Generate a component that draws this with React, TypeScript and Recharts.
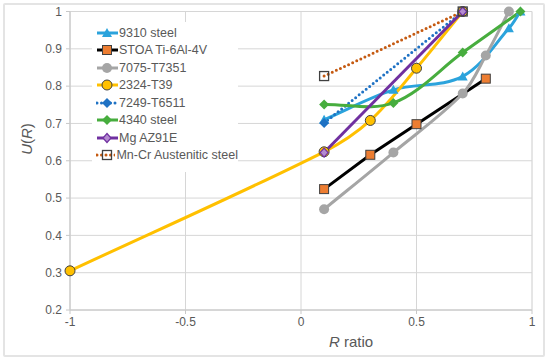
import React from "react"
import {
  LineChart, Line, XAxis, YAxis, CartesianGrid, Legend
} from "recharts"

// R ratio / U(R) pairs
const steel9310 = [
  { x: 0.1, y: 0.71 }, { x: 0.4, y: 0.79 }, { x: 0.7, y: 0.826 },
  { x: 0.9, y: 0.955 }, { x: 0.95, y: 1.0 },
]
const stoaTi = [
  { x: 0.1, y: 0.524 }, { x: 0.3, y: 0.616 }, { x: 0.5, y: 0.698 }, { x: 0.8, y: 0.82 },
]
const al7075 = [
  { x: 0.1, y: 0.47 }, { x: 0.4, y: 0.622 }, { x: 0.7, y: 0.78 },
  { x: 0.8, y: 0.882 }, { x: 0.9, y: 1.0 },
]
const al2324 = [
  { x: -1, y: 0.305 }, { x: 0.1, y: 0.624 }, { x: 0.3, y: 0.708 },
  { x: 0.5, y: 0.848 }, { x: 0.7, y: 1.0 },
]
const al7249 = [{ x: 0.1, y: 0.701 }, { x: 0.7, y: 1.0 }]
const steel4340 = [
  { x: 0.1, y: 0.751 }, { x: 0.4, y: 0.755 }, { x: 0.7, y: 0.89 }, { x: 0.95, y: 1.0 },
]
const mgAz91 = [{ x: 0.1, y: 0.622 }, { x: 0.7, y: 1.0 }]
const mnCr = [{ x: 0.1, y: 0.827 }, { x: 0.7, y: 1.0 }]

const xTicks = [-1, -0.5, 0, 0.5, 1]
const yTicks = [0.2, 0.3, 0.4, 0.5, 0.6, 0.7, 0.8, 0.9, 1]
const xMinor = Array.from({ length: 21 }, (_, i) => Math.round((-1 + i * 0.1) * 100) / 100)
const yMinor = Array.from({ length: 41 }, (_, i) => Math.round((0.2 + i * 0.02) * 100) / 100)

const TEXT = "#595959"
const FONT = "'Liberation Sans', Arial, sans-serif"

// excel-ish smoothed line: tangent along neighbours, arm length scaled per segment
function smoothCurve(context: any) {
  let pts: number[][] = []
  return {
    areaStart() {},
    areaEnd() {},
    lineStart() { pts = [] },
    lineEnd() {
      const n = pts.length
      if (!n) return
      context.moveTo(pts[0][0], pts[0][1])
      if (n < 3) {
        if (n === 2) context.lineTo(pts[1][0], pts[1][1])
        return
      }
      const tan = pts.map((_, i) => {
        const a = pts[Math.max(0, i - 1)]
        const b = pts[Math.min(n - 1, i + 1)]
        const dx = b[0] - a[0], dy = b[1] - a[1]
        const l = Math.hypot(dx, dy) || 1
        return [dx / l, dy / l]
      })
      for (let i = 0; i < n - 1; i++) {
        const p = pts[i], q = pts[i + 1]
        const d = Math.hypot(q[0] - p[0], q[1] - p[1]) * 0.33
        context.bezierCurveTo(
          p[0] + tan[i][0] * d, p[1] + tan[i][1] * d,
          q[0] - tan[i + 1][0] * d, q[1] - tan[i + 1][1] * d,
          q[0], q[1]
        )
      }
    },
    point(x: number, y: number) { pts.push([+x, +y]) },
  }
}

type Mk = "tri" | "sq" | "circ" | "ycirc" | "dia" | "pdia" | "hsq"

function Marker({ kind, cx, cy, color }: { kind: Mk; cx: number; cy: number; color: string }) {
  switch (kind) {
    case "tri":
      return <polygon points={`${cx},${cy - 5} ${cx + 5},${cy + 4} ${cx - 5},${cy + 4}`} fill={color} />
    case "sq":
      return <rect x={cx - 4.5} y={cy - 4.5} width={9} height={9} fill="#ed7d31" stroke="#404040" strokeWidth={1} />
    case "circ":
      return <circle cx={cx} cy={cy} r={5} fill={color} />
    case "ycirc":
      return <circle cx={cx} cy={cy} r={5} fill="#ffc000" stroke="#404040" strokeWidth={1} />
    case "dia":
      return <polygon points={`${cx},${cy - 5} ${cx + 5},${cy} ${cx},${cy + 5} ${cx - 5},${cy}`} fill={color} />
    case "pdia":
      return <polygon points={`${cx},${cy - 4.5} ${cx + 4},${cy} ${cx},${cy + 4.5} ${cx - 4},${cy}`} fill="#b48ad0" stroke={color} strokeWidth={1.2} />
    case "hsq":
      return <rect x={cx - 4.5} y={cy - 4.5} width={9} height={9} fill="none" stroke="#404040" strokeWidth={1.3} />
  }
  return null
}

const SERIES: Array<{
  name: string; data: { x: number; y: number }[]; color: string; marker: Mk;
  smooth: boolean; dotted?: boolean
}> = [
  { name: "9310 steel", data: steel9310, color: "#2ba3dc", marker: "tri", smooth: true },
  { name: "STOA Ti-6Al-4V", data: stoaTi, color: "#000000", marker: "sq", smooth: false },
  { name: "7075-T7351", data: al7075, color: "#a5a5a5", marker: "circ", smooth: true },
  { name: "2324-T39", data: al2324, color: "#ffc000", marker: "ycirc", smooth: true },
  { name: "7249-T6511", data: al7249, color: "#1f72c4", marker: "dia", smooth: false, dotted: true },
  { name: "4340 steel", data: steel4340, color: "#47ad3e", marker: "dia", smooth: true },
  { name: "Mg AZ91E", data: mgAz91, color: "#7030a0", marker: "pdia", smooth: false },
  { name: "Mn-Cr Austenitic steel", data: mnCr, color: "#c55a11", marker: "hsq", smooth: false, dotted: true },
]

function LegendBox() {
  return (
    <div style={{ background: "#fff", padding: "2px 0 8px 4px", fontFamily: FONT }}>
      {SERIES.map(s => (
        <div key={s.name} style={{ height: 17.5, display: "flex", alignItems: "center" }}>
          <svg width={22} height={12} style={{ marginRight: 1 }}>
            <line
              x1={1} y1={6} x2={22} y2={6} stroke={s.color} strokeWidth={3}
              strokeDasharray={s.dotted ? "0 4.5" : undefined}
              strokeLinecap={s.dotted ? "round" : "butt"}
            />
            <Marker kind={s.marker} cx={11} cy={6} color={s.color} />
          </svg>
          <span style={{ fontSize: 12.5, color: TEXT, whiteSpace: "nowrap" }}>{s.name}</span>
        </div>
      ))}
    </div>
  )
}

export default function App() {
  return (
    <div style={{ position: "absolute", left: 0, top: 0, width: 550, height: 362, background: "#fff" }}>
      <div style={{
        position: "absolute", left: 3, top: 3, width: 538, height: 350,
        border: "2px solid #e4e4e4", borderRadius: 2,
      }} />
      <LineChart
        width={550}
        height={362}
        margin={{ top: 11.5, right: 18, bottom: 0, left: 0 }}
        style={{ position: "absolute", left: 0, top: 0, fontFamily: FONT }}
      >
        <XAxis
          xAxisId="minor" type="number" dataKey="x" domain={[-1, 1]} ticks={xMinor}
          height={0} tick={false} tickLine={false} axisLine={false}
        />
        <YAxis
          yAxisId="minor" type="number" domain={[0.2, 1]} ticks={yMinor}
          width={0} tick={false} tickLine={false} axisLine={false}
        />
        <CartesianGrid xAxisId="minor" yAxisId="minor" stroke="#ececec" strokeWidth={1} />
        <CartesianGrid stroke="#d6d6d6" strokeWidth={1} />
        <XAxis
          type="number"
          dataKey="x"
          domain={[-1, 1]}
          ticks={xTicks}
          height={52}
          tickSize={4}
          tickMargin={3}
          stroke="#c8c8c8"
          tick={{ fill: TEXT, fontSize: 12 }}
          allowDuplicatedCategory={false}
          label={{
            content: () => (
              <text x={351} y={347} textAnchor="middle" fill={TEXT} fontSize={15}>
                <tspan fontStyle="italic">R</tspan> ratio
              </text>
            ),
          }}
        />
        <YAxis
          type="number"
          domain={[0.2, 1]}
          ticks={yTicks}
          width={70}
          tickSize={4}
          tickMargin={4}
          stroke="#c8c8c8"
          tick={{ fill: TEXT, fontSize: 12 }}
          label={{
            content: () => (
              <text x={32} y={139} textAnchor="middle" fill={TEXT} fontSize={15} transform="rotate(-90 32 139)">
                <tspan fontStyle="italic">U</tspan>(<tspan fontStyle="italic">R</tspan>)
              </text>
            ),
          }}
        />
        <Legend
          layout="vertical"
          align="center"
          verticalAlign="middle"
          wrapperStyle={{ left: 92, top: 22, width: 146 }}
          content={() => <LegendBox />}
        />
        {SERIES.map(s => (
          <Line
            key={s.name}
            name={s.name}
            data={s.data}
            dataKey="y"
            type={s.smooth ? (smoothCurve as any) : "linear"}
            stroke={s.color}
            strokeWidth={3}
            strokeDasharray={s.dotted ? "0 4.5" : undefined}
            strokeLinecap={s.dotted ? "round" : "butt"}
            isAnimationActive={false}
            dot={(p: any) => <Marker key={`${s.name}-${p.index}`} kind={s.marker} cx={p.cx} cy={p.cy} color={s.color} />}
            activeDot={false}
          />
        ))}
      </LineChart>
    </div>
  )
}
